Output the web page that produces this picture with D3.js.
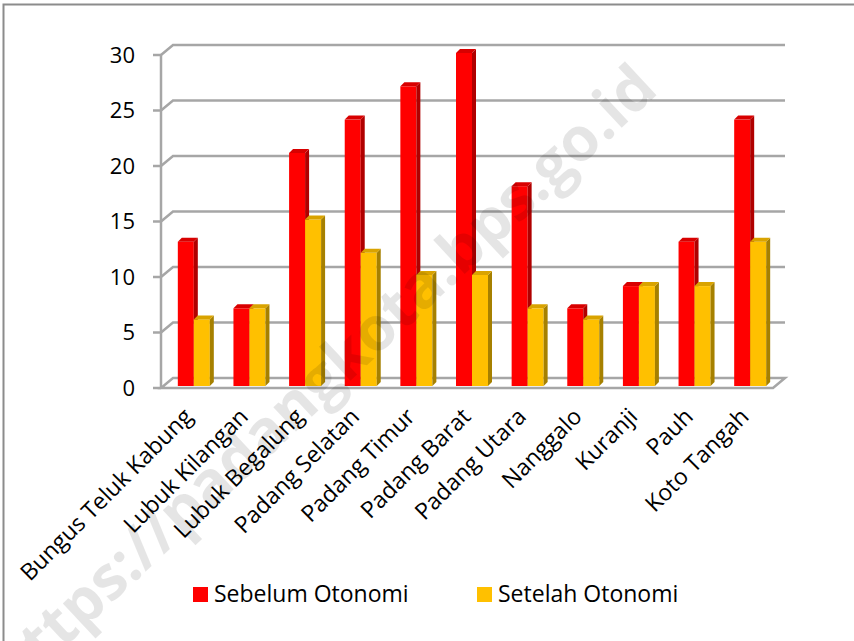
<!DOCTYPE html>
<html>
<head>
<meta charset="utf-8">
<script src="https://cdn.jsdelivr.net/npm/d3@7"></script>
<style>
  body { margin: 0; background: #fff; }
  svg { display: block; font-family: "Open Sans", sans-serif; }
</style>
</head>
<body>
<div id="chart"></div>
<script>
// data
var kecamatan = ["Bungus Teluk Kabung", "Lubuk Kilangan", "Lubuk Begalung", "Padang Selatan",
  "Padang Timur", "Padang Barat", "Padang Utara", "Nanggalo", "Kuranji", "Pauh", "Koto Tangah"];
var sebelum = [13, 7, 21, 24, 27, 30, 18, 7, 9, 13, 24];
var setelah = [6, 7, 15, 12, 10, 10, 7, 6, 9, 9, 13];
var seriesNames = ["Sebelum Otonomi", "Setelah Otonomi"];
var yTicks = [0, 5, 10, 15, 20, 25, 30];

var svgWidth = 854, svgHeight = 641;

var svg = d3.select("#chart").append("svg")
  .attr("width", svgWidth)
  .attr("height", svgHeight);

// outer frame (only left and top are inside the picture)
svg.append("rect")
  .attr("x", 3.5).attr("y", 4.5)
  .attr("width", 1000).attr("height", 1000)
  .attr("fill", "none")
  .attr("stroke", "#8c8c8c")
  .attr("stroke-width", 2);

// plot geometry
var x0 = 161, x1 = 773;
var depthX = 12, depthY = -10;

var xScale = d3.scaleBand()
  .domain(kecamatan)
  .range([x0, x1]);

var yScale = d3.scaleLinear()
  .domain([0, 30])
  .range([388, 55]);

var gridColor = "#a6a6a6";

// gridlines: front axis -> back wall
var grid = svg.append("g");
yTicks.forEach(function(t) {
  var y = yScale(t);
  if (t > 0) {
    grid.append("path")
      .attr("d", "M" + x0 + "," + y + "L" + (x0 + depthX) + "," + (y + depthY) + "L" + (x1 + depthX) + "," + (y + depthY))
      .attr("fill", "none")
      .attr("stroke", gridColor)
      .attr("stroke-width", 2.5);
  }
  grid.append("line")
    .attr("x1", x0 - 8).attr("x2", x0)
    .attr("y1", y).attr("y2", y)
    .attr("stroke", gridColor)
    .attr("stroke-width", 2.5);
});

// floor
var y0 = yScale(0);
grid.append("path")
  .attr("d", "M" + x0 + "," + y0 + "L" + x1 + "," + y0 + "L" + (x1 + depthX) + "," + (y0 + depthY) +
    "L" + (x0 + depthX) + "," + (y0 + depthY) + "Z")
  .attr("fill", "none")
  .attr("stroke", gridColor)
  .attr("stroke-width", 2.5);

// vertical axis line
grid.append("line")
  .attr("x1", x0).attr("x2", x0)
  .attr("y1", yScale(30)).attr("y2", y0)
  .attr("stroke", gridColor)
  .attr("stroke-width", 2.5);

// y tick labels
svg.append("g").selectAll("text")
  .data(yTicks)
  .enter()
  .append("text")
  .attr("x", 135)
  .attr("y", d => yScale(d))
  .attr("dy", "0.36em")
  .attr("text-anchor", "end")
  .attr("font-size", "22px")
  .attr("fill", "#000")
  .text(d => d);

// bars with a small 3D depth
var barW = 16, bd = 4;
var colors = [
  { front: "#ff0000", side: "#b00000", top: "#d80000" },
  { front: "#ffc000", side: "#a68000", top: "#d9a300" }
];
var series = [sebelum, setelah];
var barShiftX = 5 - barW, barShiftY = -2;

var bars = svg.append("g");
kecamatan.forEach(function(k, i) {
  series.forEach(function(vals, s) {
    var c = colors[s];
    var xl = xScale(k) + xScale.bandwidth() / 2 + barShiftX + s * barW;
    var yb = yScale(0) + barShiftY;
    var yt = yScale(vals[i]) + barShiftY;
    var g = bars.append("g");
    g.append("rect")
      .attr("x", xl).attr("y", yt)
      .attr("width", barW).attr("height", yb - yt)
      .attr("fill", c.front);
    g.append("path")
      .attr("d", "M" + (xl + barW) + "," + yt + "L" + (xl + barW + bd) + "," + (yt - bd) +
        "L" + (xl + barW + bd) + "," + (yb - bd) + "L" + (xl + barW) + "," + yb + "Z")
      .attr("fill", c.side);
    g.append("path")
      .attr("d", "M" + xl + "," + yt + "L" + (xl + bd) + "," + (yt - bd) +
        "L" + (xl + barW + bd) + "," + (yt - bd) + "L" + (xl + barW) + "," + yt + "Z")
      .attr("fill", c.top);
  });
});

// category labels, rotated
svg.append("g").selectAll("text")
  .data(kecamatan)
  .enter()
  .append("text")
  .attr("transform", d => "translate(" + (xScale(d) + xScale.bandwidth() / 2 + 5) + ",418) rotate(-45)")
  .attr("text-anchor", "end")
  .attr("font-size", "23px")
  .attr("fill", "#000")
  .text(d => d);

// legend
var legendX = [193, 477];
var legend = svg.append("g");
seriesNames.forEach(function(name, s) {
  legend.append("rect")
    .attr("x", legendX[s]).attr("y", 587)
    .attr("width", 15).attr("height", 15)
    .attr("fill", colors[s].front);
  legend.append("text")
    .attr("x", legendX[s] + 21)
    .attr("y", 602)
    .attr("font-size", "23px")
    .attr("fill", "#000")
    .text(name);
});

// watermark
svg.append("text")
  .attr("transform", "translate(660,92) rotate(-43)")
  .attr("text-anchor", "end")
  .attr("font-size", "61px")
  .attr("font-weight", "bold")
  .attr("fill", "#000")
  .attr("fill-opacity", 0.1)
  .attr("font-family", "'Open Sans', sans-serif")
  .text("https://padangkota.bps.go.id");
</script>
</body>
</html>
